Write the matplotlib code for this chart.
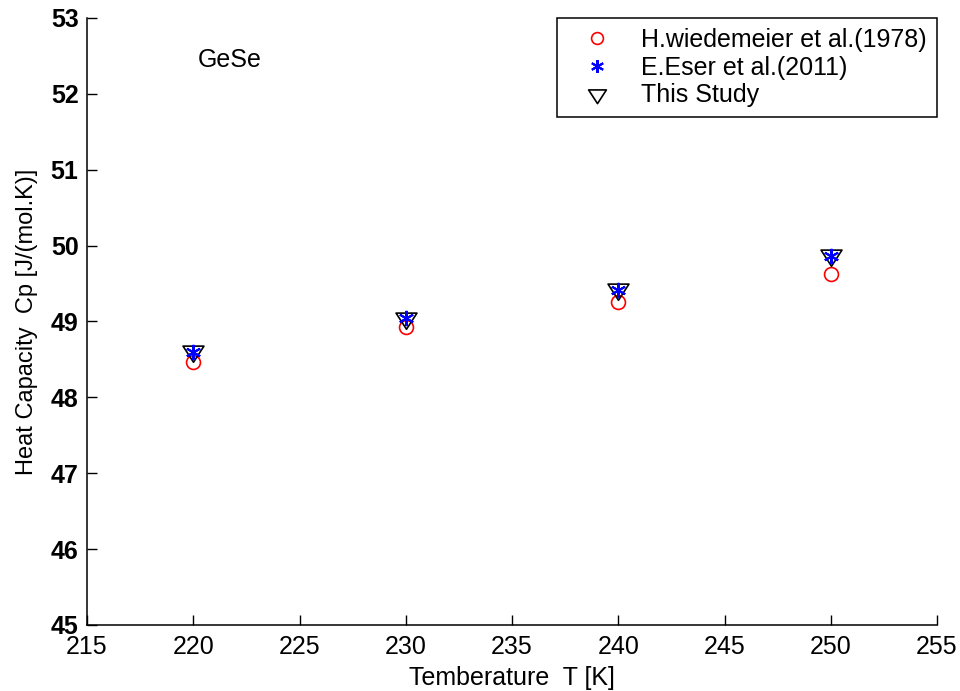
import matplotlib
matplotlib.use("Agg")
import matplotlib.pyplot as plt
from matplotlib.path import Path

plt.rcParams['font.family'] = ['Liberation Sans', 'DejaVu Sans']

temps = [220, 230, 240, 250]
wiedemeier = [48.47, 48.93, 49.26, 49.62]
eser = [48.60, 49.04, 49.42, 49.86]
this_study = [48.61, 49.05, 49.43, 49.87]

xticks = [215, 220, 225, 230, 235, 240, 245, 250, 255]
yticks = [45, 46, 47, 48, 49, 50, 51, 52, 53]

tri = Path([(-11, 5.67), (11, 5.67), (0, -11.33), (-11, 5.67)],
           [Path.MOVETO, Path.LINETO, Path.LINETO, Path.CLOSEPOLY])

fig = plt.figure(figsize=(9.6, 6.91), dpi=100)
ax = fig.add_axes([87/960, 1-625/691, (937-87)/960, (625-18)/691])

ax.plot(temps, wiedemeier, linestyle='none', marker='o', markersize=10,
        markerfacecolor='none', markeredgecolor='red', markeredgewidth=1.2,
        label='H.wiedemeier et al.(1978)', zorder=3)
ax.plot(temps, eser, linestyle='none', marker=(6, 2, 0), markersize=11,
        color='blue', markeredgewidth=1.5, label='E.Eser et al.(2011)', zorder=5)
ax.plot(temps, this_study, linestyle='none', marker=tri, markersize=15.5,
        markerfacecolor='none', markeredgecolor='black', markeredgewidth=1.2,
        label='This Study', zorder=4)

ax.set_xlim(215, 255)
ax.set_ylim(45, 53)
ax.set_xticks(xticks)
ax.set_yticks(yticks)
ax.set_xticklabels([str(v) for v in xticks], fontsize=18)
ax.set_yticklabels([str(v) for v in yticks], fontsize=18, fontweight='bold')
ax.tick_params(direction='in', length=7, width=1, colors='black')
ax.tick_params(axis='x', pad=7)
ax.tick_params(axis='y', pad=6)
for s in ['top', 'right']:
    ax.spines[s].set_visible(False)
for s in ['left', 'bottom']:
    ax.spines[s].set_linewidth(1.1)
    ax.spines[s].set_color('black')

ax.set_xlabel('Temberature  T [K]', fontsize=18, labelpad=5)
ax.set_ylabel('Heat Capacity  Cp [J/(mol.K)]', fontsize=17, labelpad=9)

ax.text(0.13, 0.93, 'GeSe', transform=ax.transAxes, fontsize=18,
        ha='left', va='center')

leg = ax.legend(loc='upper right', bbox_to_anchor=(1.0, 1.0), borderaxespad=0,
                fontsize=18, frameon=True, fancybox=False, framealpha=1,
                edgecolor='black', labelspacing=0.15, handlelength=2.4,
                handletextpad=0.56, borderpad=0.4, markerscale=0.85)
leg.get_frame().set_linewidth(1.1)

fig.savefig('out.png', dpi=100, facecolor='white')
